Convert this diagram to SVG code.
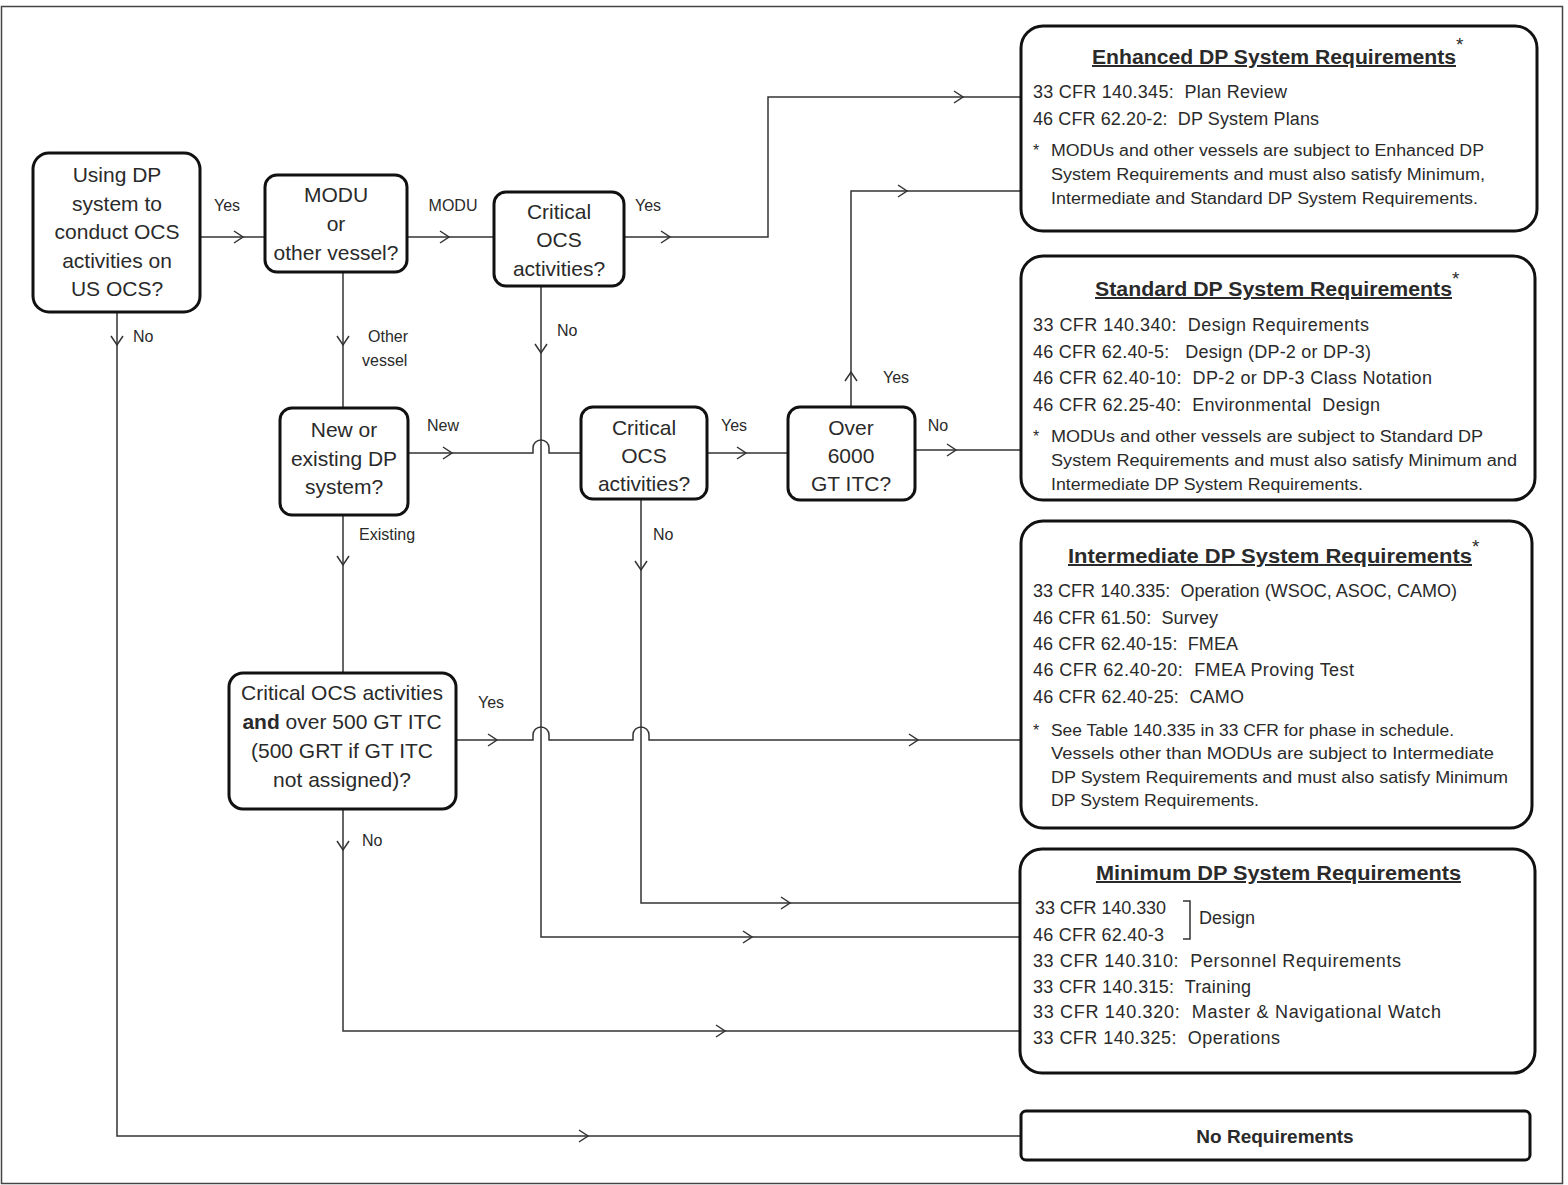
<svg xmlns="http://www.w3.org/2000/svg" xmlns:xlink="http://www.w3.org/1999/xlink" width="1568" height="1185" viewBox="0 0 1568 1185">
<style>
text{font-family:"Liberation Sans",Arial,sans-serif;fill:#2a2a2a;white-space:pre}
.box{fill:#fff;stroke:#111;stroke-width:3}
.q{font-size:21px;text-anchor:middle}
.lbl{font-size:16px}
.ttl{font-size:20px;font-weight:bold;text-decoration:underline}
.cfr{font-size:18px}
.note{font-size:16px}
.ast{font-size:19px}
.con{fill:none;stroke:#333;stroke-width:1.5}
</style>
<defs>
<path id="ar" d="M-9,-6 L0,0 L-9,6" fill="none" stroke="#333" stroke-width="1.5"/>
</defs>
<rect x="1.5" y="6.5" width="1561" height="1177" fill="#fff" stroke="#444" stroke-width="1.5"/>

<g id="connectors">
<path class="con" d="M200,237 H265"/>
<path class="con" d="M407,237 H494"/>
<path class="con" d="M624,237 H768 V97 H1021"/>
<path class="con" d="M343,272 V408"/>
<path class="con" d="M541,286 V937 H1020"/>
<path class="con" d="M408,453 H533 v-5 a8,8 0 0 1 16,0 v5 H581"/>
<path class="con" d="M707,453 H788"/>
<path class="con" d="M851,407 V191 H1021"/>
<path class="con" d="M915,450 H1021"/>
<path class="con" d="M641,499 V903 H1020"/>
<path class="con" d="M343,515 V673"/>
<path class="con" d="M456,740 H533 v-5 a8,8 0 0 1 16,0 v5 H633 v-5 a8,8 0 0 1 16,0 v5 H1021"/>
<path class="con" d="M343,809 V1031 H1020"/>
<path class="con" d="M117,312 V1136 H1021"/>
<use xlink:href="#ar" transform="translate(243,237)"/>
<use xlink:href="#ar" transform="translate(449,237)"/>
<use xlink:href="#ar" transform="translate(670,237)"/>
<use xlink:href="#ar" transform="translate(963,97)"/>
<use xlink:href="#ar" transform="translate(907,191)"/>
<use xlink:href="#ar" transform="translate(851,372) rotate(-90)"/>
<use xlink:href="#ar" transform="translate(452,453)"/>
<use xlink:href="#ar" transform="translate(746,453)"/>
<use xlink:href="#ar" transform="translate(956,450)"/>
<use xlink:href="#ar" transform="translate(497,740)"/>
<use xlink:href="#ar" transform="translate(918,740)"/>
<use xlink:href="#ar" transform="translate(790,903)"/>
<use xlink:href="#ar" transform="translate(752,937)"/>
<use xlink:href="#ar" transform="translate(725,1031)"/>
<use xlink:href="#ar" transform="translate(588,1136)"/>
<use xlink:href="#ar" transform="translate(117,345) rotate(90)"/>
<use xlink:href="#ar" transform="translate(343,345) rotate(90)"/>
<use xlink:href="#ar" transform="translate(541,353) rotate(90)"/>
<use xlink:href="#ar" transform="translate(343,565) rotate(90)"/>
<use xlink:href="#ar" transform="translate(641,570) rotate(90)"/>
<use xlink:href="#ar" transform="translate(343,850) rotate(90)"/>
<text class="lbl" x="227" y="211" text-anchor="middle">Yes</text>
<text class="lbl" x="453" y="211" text-anchor="middle">MODU</text>
<text class="lbl" x="648" y="211" text-anchor="middle">Yes</text>
<text class="lbl" x="133" y="342">No</text>
<text class="lbl" x="368" y="342">Other</text>
<text class="lbl" x="362" y="366">vessel</text>
<text class="lbl" x="557" y="336">No</text>
<text class="lbl" x="443" y="431" text-anchor="middle">New</text>
<text class="lbl" x="734" y="431" text-anchor="middle">Yes</text>
<text class="lbl" x="938" y="431" text-anchor="middle">No</text>
<text class="lbl" x="896" y="383" text-anchor="middle">Yes</text>
<text class="lbl" x="653" y="540">No</text>
<text class="lbl" x="359" y="540">Existing</text>
<text class="lbl" x="491" y="708" text-anchor="middle">Yes</text>
<text class="lbl" x="362" y="846">No</text>
</g>

<g id="n1">
<rect class="box" x="33" y="153" width="167" height="159" rx="16"/>
<text class="q" x="117" y="182">Using DP</text>
<text class="q" x="117" y="211">system to</text>
<text class="q" x="117" y="239">conduct OCS</text>
<text class="q" x="117" y="268">activities on</text>
<text class="q" x="117" y="296">US OCS?</text>
</g>
<g id="n2">
<rect class="box" x="265" y="175" width="142" height="97" rx="12"/>
<text class="q" x="336" y="202">MODU</text>
<text class="q" x="336" y="231">or</text>
<text class="q" x="336" y="260">other vessel?</text>
</g>
<g id="n3">
<rect class="box" x="494" y="192" width="130" height="94" rx="12"/>
<text class="q" x="559" y="219">Critical</text>
<text class="q" x="559" y="247">OCS</text>
<text class="q" x="559" y="276">activities?</text>
</g>
<g id="n4">
<rect class="box" x="280" y="408" width="128" height="107" rx="12"/>
<text class="q" x="344" y="437">New or</text>
<text class="q" x="344" y="466">existing DP</text>
<text class="q" x="344" y="494">system?</text>
</g>
<g id="n5">
<rect class="box" x="581" y="407" width="126" height="92" rx="12"/>
<text class="q" x="644" y="435">Critical</text>
<text class="q" x="644" y="463">OCS</text>
<text class="q" x="644" y="491">activities?</text>
</g>
<g id="n6">
<rect class="box" x="788" y="407" width="127" height="93" rx="12"/>
<text class="q" x="851" y="435">Over</text>
<text class="q" x="851" y="463">6000</text>
<text class="q" x="851" y="491">GT ITC?</text>
</g>
<g id="n7">
<rect class="box" x="229" y="673" width="227" height="136" rx="14"/>
<text class="q" x="342" y="700">Critical OCS activities</text>
<text class="q" x="342" y="729"><tspan font-weight="bold">and</tspan> over 500 GT ITC</text>
<text class="q" x="342" y="758">(500 GRT if GT ITC</text>
<text class="q" x="342" y="787">not assigned)?</text>
</g>

<g id="enhanced">
<rect class="box" x="1021" y="26" width="516" height="205" rx="22"/>
<text class="ttl" x="1092" y="64" textLength="364" lengthAdjust="spacingAndGlyphs">Enhanced DP System Requirements</text>
<text class="ast" x="1456" y="51">*</text>
<text class="cfr" x="1033" y="98" textLength="254">33 CFR 140.345:  Plan Review</text>
<text class="cfr" x="1033" y="125" textLength="286">46 CFR 62.20-2:  DP System Plans</text>
<text class="note" x="1033" y="156">*</text>
<text class="note" x="1051" y="156" textLength="433" lengthAdjust="spacingAndGlyphs">MODUs and other vessels are subject to Enhanced DP</text>
<text class="note" x="1051" y="180" textLength="434" lengthAdjust="spacingAndGlyphs">System Requirements and must also satisfy Minimum,</text>
<text class="note" x="1051" y="204" textLength="427" lengthAdjust="spacingAndGlyphs">Intermediate and Standard DP System Requirements.</text>
</g>

<g id="standard">
<rect class="box" x="1021" y="256" width="514" height="244" rx="22"/>
<text class="ttl" x="1095" y="296" textLength="357" lengthAdjust="spacingAndGlyphs">Standard DP System Requirements</text>
<text class="ast" x="1452" y="285">*</text>
<text class="cfr" x="1033" y="331" textLength="336">33 CFR 140.340:  Design Requirements</text>
<text class="cfr" x="1033" y="358" textLength="338">46 CFR 62.40-5:   Design (DP-2 or DP-3)</text>
<text class="cfr" x="1033" y="384" textLength="399">46 CFR 62.40-10:  DP-2 or DP-3 Class Notation</text>
<text class="cfr" x="1033" y="411" textLength="347">46 CFR 62.25-40:  Environmental  Design</text>
<text class="note" x="1033" y="442">*</text>
<text class="note" x="1051" y="442" textLength="432" lengthAdjust="spacingAndGlyphs">MODUs and other vessels are subject to Standard DP</text>
<text class="note" x="1051" y="466" textLength="466" lengthAdjust="spacingAndGlyphs">System Requirements and must also satisfy Minimum and</text>
<text class="note" x="1051" y="490" textLength="312" lengthAdjust="spacingAndGlyphs">Intermediate DP System Requirements.</text>
</g>

<g id="intermediate">
<rect class="box" x="1021" y="521" width="511" height="307" rx="22"/>
<text class="ttl" x="1068" y="563" textLength="404" lengthAdjust="spacingAndGlyphs">Intermediate DP System Requirements</text>
<text class="ast" x="1472" y="553">*</text>
<text class="cfr" x="1033" y="597" textLength="424">33 CFR 140.335:  Operation (WSOC, ASOC, CAMO)</text>
<text class="cfr" x="1033" y="624" textLength="185">46 CFR 61.50:  Survey</text>
<text class="cfr" x="1033" y="650" textLength="205">46 CFR 62.40-15:  FMEA</text>
<text class="cfr" x="1033" y="676" textLength="321">46 CFR 62.40-20:  FMEA Proving Test</text>
<text class="cfr" x="1033" y="703" textLength="211">46 CFR 62.40-25:  CAMO</text>
<text class="note" x="1033" y="736">*</text>
<text class="note" x="1051" y="736" textLength="403" lengthAdjust="spacingAndGlyphs">See Table 140.335 in 33 CFR for phase in schedule.</text>
<text class="note" x="1051" y="759" textLength="443" lengthAdjust="spacingAndGlyphs">Vessels other than MODUs are subject to Intermediate</text>
<text class="note" x="1051" y="783" textLength="457" lengthAdjust="spacingAndGlyphs">DP System Requirements and must also satisfy Minimum</text>
<text class="note" x="1051" y="806" textLength="208" lengthAdjust="spacingAndGlyphs">DP System Requirements.</text>
</g>

<g id="minimum">
<rect class="box" x="1020" y="849" width="515" height="224" rx="22"/>
<text class="ttl" x="1096" y="880" textLength="365" lengthAdjust="spacingAndGlyphs">Minimum DP System Requirements</text>
<text class="cfr" x="1035" y="914" textLength="131">33 CFR 140.330</text>
<text class="cfr" x="1033" y="941" textLength="131">46 CFR 62.40-3</text>
<path d="M1183,901 H1190 V939 H1183" fill="none" stroke="#333" stroke-width="1.5"/>
<text class="cfr" x="1199" y="924">Design</text>
<text class="cfr" x="1033" y="967" textLength="368">33 CFR 140.310:  Personnel Requirements</text>
<text class="cfr" x="1033" y="993" textLength="218">33 CFR 140.315:  Training</text>
<text class="cfr" x="1033" y="1018" textLength="408">33 CFR 140.320:  Master &amp; Navigational Watch</text>
<text class="cfr" x="1033" y="1044" textLength="247">33 CFR 140.325:  Operations</text>
</g>

<g id="noreq">
<rect class="box" x="1021" y="1111" width="509" height="49" rx="5"/>
<text x="1275" y="1143" font-size="19" font-weight="bold" text-anchor="middle">No Requirements</text>
</g>
</svg>
